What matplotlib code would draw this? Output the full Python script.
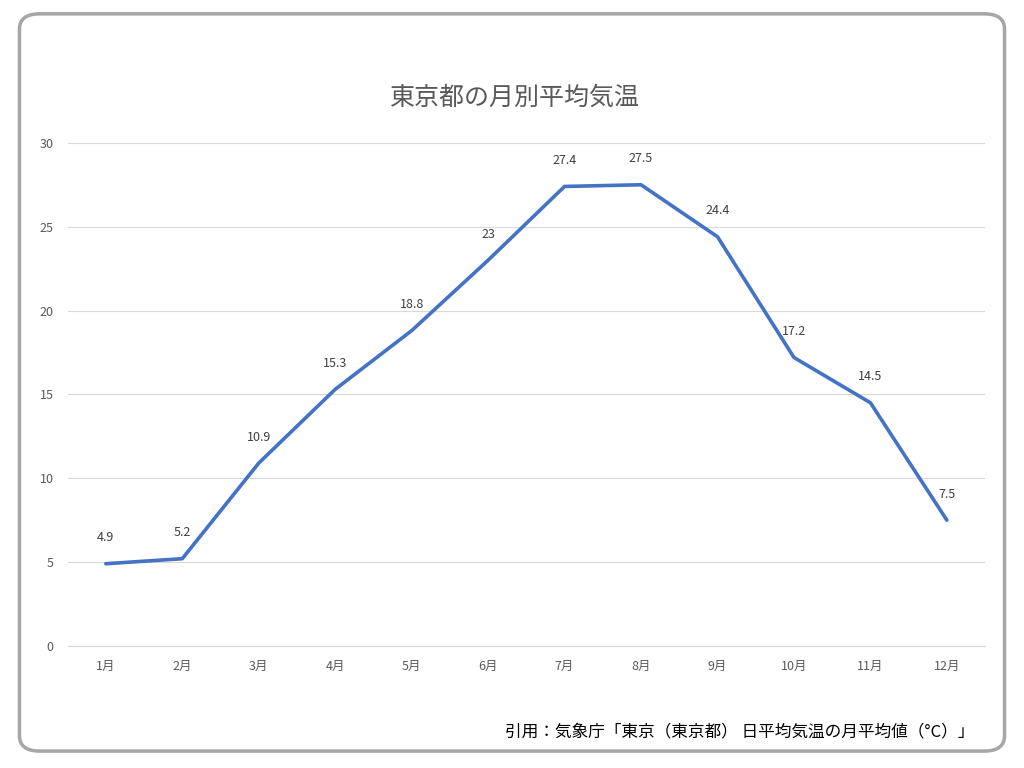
import matplotlib
matplotlib.use("Agg")
import matplotlib.pyplot as plt
from matplotlib.patches import FancyBboxPatch

plt.rcParams['font.family'] = ['Noto Sans CJK JP', 'DejaVu Sans']

months = [f"{m}月" for m in range(1, 13)]
temps = [4.9, 5.2, 10.9, 15.3, 18.8, 23, 27.4, 27.5, 24.4, 17.2, 14.5, 7.5]
yticks = [0, 5, 10, 15, 20, 25, 30]

fig = plt.figure(figsize=(10.24, 7.68), dpi=100)
border = FancyBboxPatch((0.019, 0.022), 0.962, 0.96, boxstyle="round,pad=0,rounding_size=0.02",
                        transform=fig.transFigure, facecolor="white", edgecolor="#A6A6A6",
                        lw=2.5, zorder=-1)
fig.patches.append(border)

ax = fig.add_axes([0.066, 0.159, 0.896, 0.655])
ax.set_zorder(1)
ax.set_facecolor("none")
x = list(range(len(months)))
ax.plot(x, temps, color="#4472C4", lw=2.6, solid_capstyle="round")
for xi, t in zip(x, temps):
    ax.annotate(f"{t:g}", (xi, t), xytext=(0, 14), textcoords="offset points",
                ha="center", va="bottom", fontsize=9, color="#404040")

ax.set_xlim(-0.5, 11.5)
ax.set_ylim(0, 30)
ax.set_yticks(yticks)
ax.set_xticks(x)
ax.set_xticklabels(months)
ax.tick_params(length=0, colors="#595959", labelsize=9, pad=10)
ax.grid(axis="y", color="#D9D9D9", lw=0.8)
ax.set_axisbelow(True)
for s in ["top", "right", "left"]:
    ax.spines[s].set_visible(False)
ax.spines["bottom"].set_color("#D9D9D9")

fig.text(0.503, 0.872, "東京都の月別平均気温", ha="center", va="center", fontsize=18, color="#595959")
fig.text(0.952, 0.047, "引用：気象庁「東京（東京都） 日平均気温の月平均値（°C）」",
         ha="right", va="center", fontsize=12, color="#000000")

fig.savefig("out.png", dpi=100)
